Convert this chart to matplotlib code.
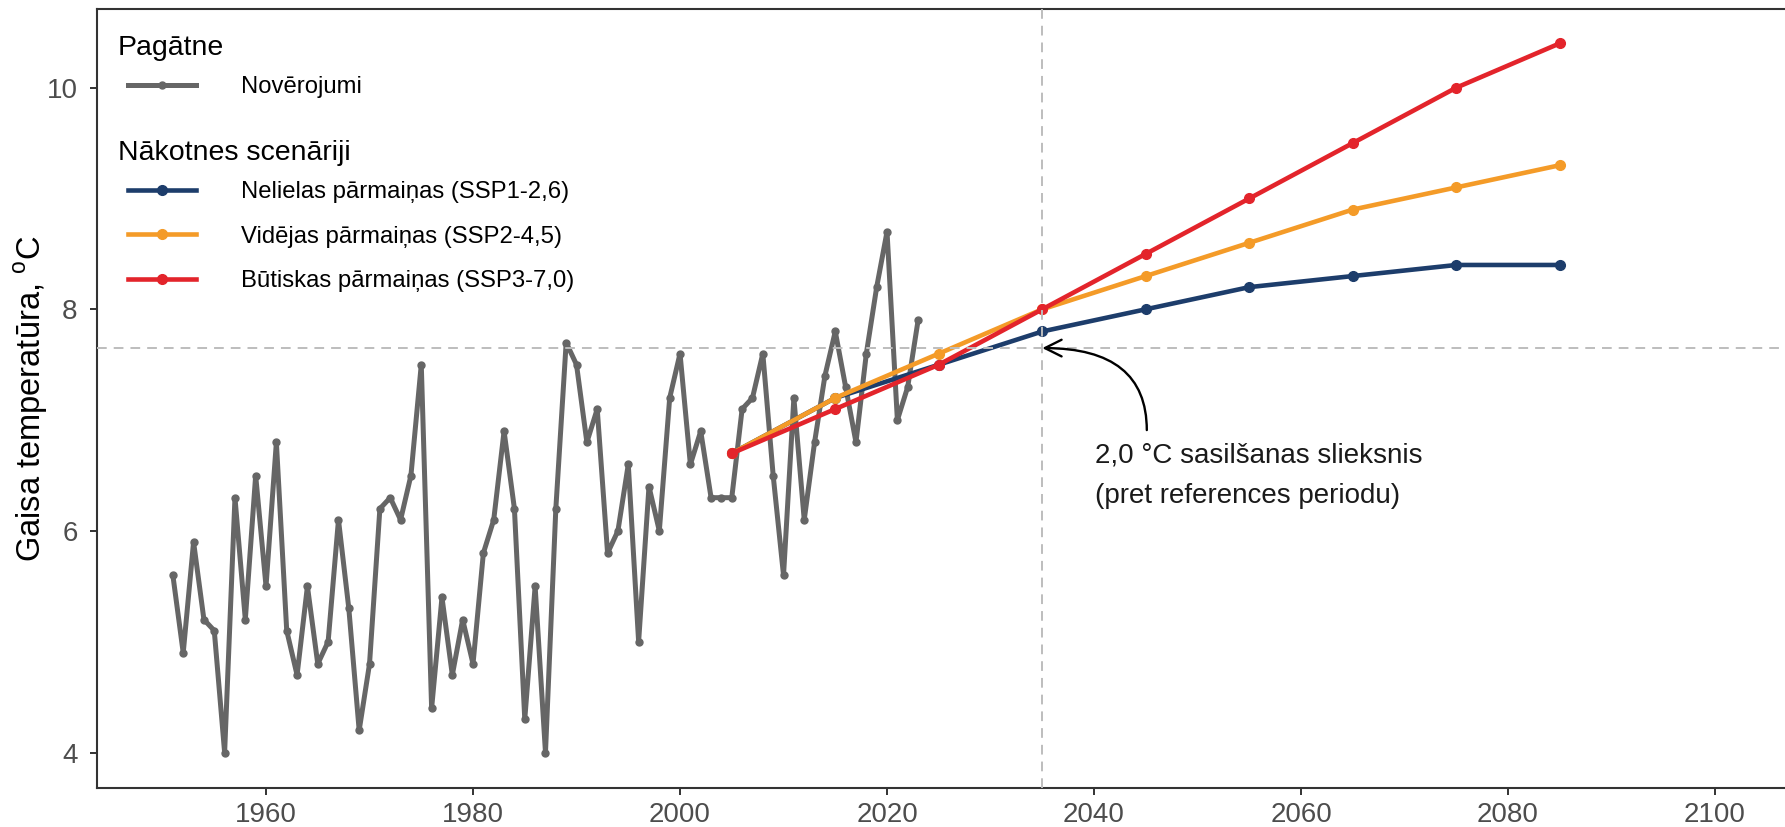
import matplotlib
matplotlib.use("Agg")
import matplotlib.pyplot as plt

plt.rcParams['font.family'] = ['Liberation Sans', 'DejaVu Sans']
plt.rcParams['mathtext.fontset'] = 'custom'
plt.rcParams['mathtext.rm'] = 'Liberation Sans'

# annual mean air temperature, observed
obs_years = list(range(1951, 2024))
obs_temp = [5.6, 4.9, 5.9, 5.2, 5.1, 4.0, 6.3, 5.2, 6.5, 5.5,
            6.8, 5.1, 4.7, 5.5, 4.8, 5.0, 6.1, 5.3, 4.2, 4.8,
            6.2, 6.3, 6.1, 6.5, 7.5, 4.4, 5.4, 4.7, 5.2, 4.8,
            5.8, 6.1, 6.9, 6.2, 4.3, 5.5, 4.0, 6.2, 7.7, 7.5,
            6.8, 7.1, 5.8, 6.0, 6.6, 5.0, 6.4, 6.0, 7.2, 7.6,
            6.6, 6.9, 6.3, 6.3, 6.3, 7.1, 7.2, 7.6, 6.5, 5.6,
            7.2, 6.1, 6.8, 7.4, 7.8, 7.3, 6.8, 7.6, 8.2, 8.7,
            7.0, 7.3, 7.9]

# decadal scenario means
scen_years = [2005, 2015, 2025, 2035, 2045, 2055, 2065, 2075, 2085]
ssp126 = [6.7, 7.2, 7.5, 7.8, 8.0, 8.2, 8.3, 8.4, 8.4]
ssp245 = [6.7, 7.2, 7.6, 8.0, 8.3, 8.6, 8.9, 9.1, 9.3]
ssp370 = [6.7, 7.1, 7.5, 8.0, 8.5, 9.0, 9.5, 10.0, 10.4]

scen_labels = ['Nelielas pārmaiņas (SSP1-2,6)',
               'Vidējas pārmaiņas (SSP2-4,5)',
               'Būtiskas pārmaiņas (SSP3-7,0)']
scen_colors = ['#1d3d6b', '#f49b28', '#e3242b']

threshold_year = 2035
threshold_temp = 7.65

x_ticks = [1960, 1980, 2000, 2020, 2040, 2060, 2080, 2100]
y_ticks = [4, 6, 8, 10]

fig = plt.figure(figsize=(17.85, 8.27), dpi=100)
ax = fig.add_axes([0.05417, 0.04716, 0.94583, 0.94196])

obs_line, = ax.plot(obs_years, obs_temp, color='#666666', lw=3.6,
                    marker='o', ms=5, label='Novērojumi', zorder=2)

scen_lines = []
for vals, lab, col in zip([ssp126, ssp245, ssp370], scen_labels, scen_colors):
    ln, = ax.plot(scen_years, vals, color=col, lw=3.3, marker='o', ms=7,
                  label=lab, zorder=3)
    scen_lines.append(ln)

# 2 degree threshold guides
ax.axhline(threshold_temp, color='#bdbdbd', lw=1.4, dashes=(5, 3.6), zorder=4)
ax.axvline(threshold_year, color='#bdbdbd', lw=1.4, dashes=(5, 3.6), zorder=4)

ax.annotate('', xy=(threshold_year, threshold_temp), xytext=(2045.1, 6.91),
            arrowprops=dict(arrowstyle='->', color='black', lw=1.7,
                            mutation_scale=30, shrinkA=0, shrinkB=0,
                            connectionstyle='angle3,angleA=90,angleB=0'),
            zorder=5)
ax.text(2040.1, 6.50, '2,0 °C sasilšanas slieksnis\n(pret references periodu)',
        ha='left', va='center', fontsize=20, linespacing=1.75, color='#1a1a1a')

ax.set_xlim(1943.64, 2106.76)
ax.set_ylim(3.68, 10.71)
ax.set_xticks(x_ticks)
ax.set_yticks(y_ticks)
ax.tick_params(axis='both', length=4.8, width=1.4, color='#333333',
               labelcolor='#4d4d4d', labelsize=20)
ax.tick_params(axis='y', pad=9)
ax.tick_params(axis='x', pad=5.5)
for side in ['left', 'bottom', 'top']:
    ax.spines[side].set_color('#333333')
    ax.spines[side].set_linewidth(1.5)
ax.spines['right'].set_visible(False)

ax.set_ylabel(r'Gaisa temperatūra, $^{\mathrm{o}}$C', fontsize=23.5)
ax.yaxis.set_label_coords(-0.0274, 0.5)

leg_kw = dict(loc='upper left', bbox_transform=fig.transFigure, frameon=False,
              alignment='left', fontsize=17.2, title_fontsize=20.5,
              handlelength=2.85, handletextpad=1.9, labelspacing=0.95,
              borderpad=0, borderaxespad=0)
leg1 = ax.legend(handles=[obs_line], title='Pagātne',
                 bbox_to_anchor=(0.0716, 0.9575), **leg_kw)
ax.add_artist(leg1)
leg2 = ax.legend(handles=scen_lines, title='Nākotnes scenāriji',
                 bbox_to_anchor=(0.0716, 0.8305), **leg_kw)
for leg in (leg1, leg2):
    # title sits a little left of the keys and closer to the first row
    leg.get_title().set_x(-10)
    leg._legend_box.sep = 10.6

fig.savefig('out.png', dpi=100)
